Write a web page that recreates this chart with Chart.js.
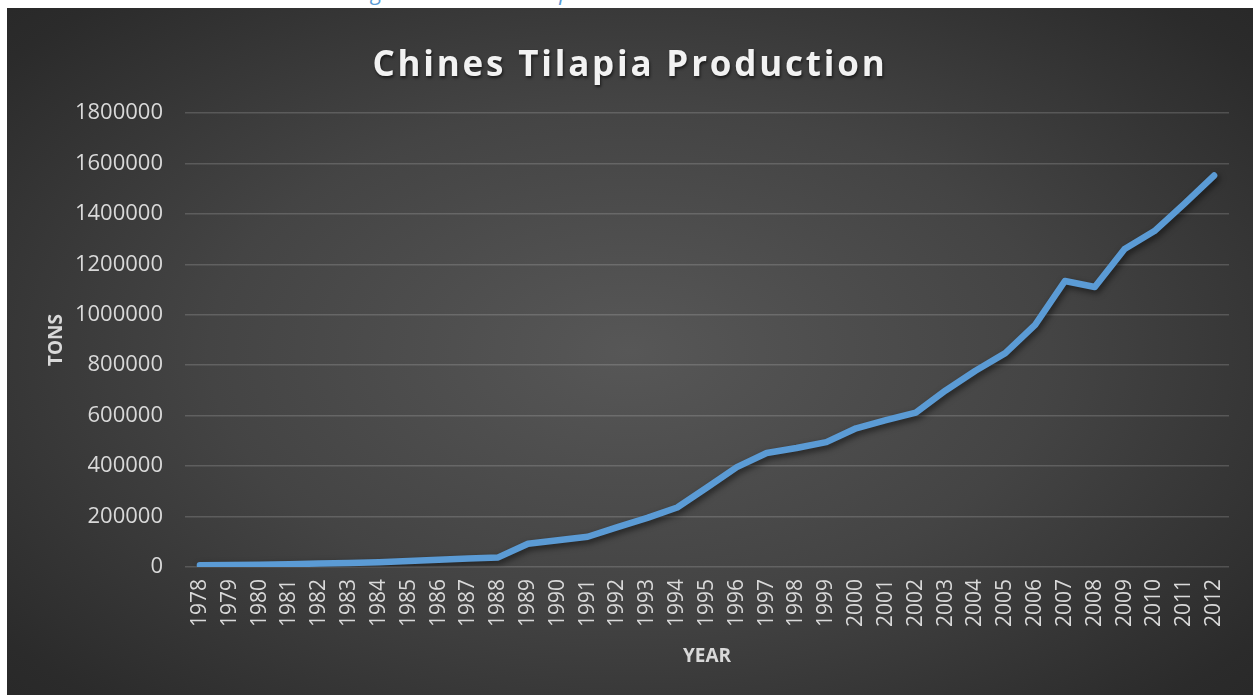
<!DOCTYPE html>
<html>
<head>
<meta charset="utf-8">
<script src="https://cdn.jsdelivr.net/npm/chart.js@4"></script>
<style>
  html, body { margin: 0; padding: 0; background: #fff; overflow: hidden; }
  body { width: 1253px; height: 695px; position: relative; }
  #caption {
    position: absolute; left: 355px; top: -24px; width: 520px; height: 32px;
    font: italic 22px "Open Sans", sans-serif; color: #5b9bd5; white-space: nowrap;
  }
  #panel {
    position: absolute; left: 7px; top: 8px; width: 1246px; height: 687px;
    background: radial-gradient(ellipse 75% 80% at 50% 50%, #575757 0%, #444 45%, #2b2b2b 85%, #262626 100%);
  }
  #title {
    position: absolute; left: 0; width: 1246px; top: 31px; text-align: center;
    font: bold 35px "Open Sans", sans-serif; letter-spacing: 2.8px; color: #f2f2f2;
    text-shadow: 1px 2px 3px rgba(0,0,0,0.6);
  }
  #wrap { position: absolute; left: 0; top: 0; width: 1246px; height: 687px; }
</style>
</head>
<body>
<div id="caption">Figure 3: Chinese Tilapia Production 1978-2012</div>
<div id="panel">
  <div id="wrap"><canvas id="chart"></canvas></div>
  <div id="title">Chines Tilapia Production</div>
</div>
<script>
// years on the x axis
const years = [
  '1978', '1979', '1980', '1981', '1982', '1983', '1984', '1985', '1986', '1987',
  '1988', '1989', '1990', '1991', '1992', '1993', '1994', '1995', '1996', '1997',
  '1998', '1999', '2000', '2001', '2002', '2003', '2004', '2005', '2006', '2007',
  '2008', '2009', '2010', '2011', '2012'
];

// production in tons
const tons = [
  7000, 8000, 9000, 11000, 14000, 16000, 19000, 24000, 29000, 34000,
  38000, 92000, 106000, 120000, 158000, 195000, 236000, 315000, 396000, 452000,
  472000, 495000, 550000, 582000, 612000, 700000, 778000, 848000, 960000, 1134000,
  1110000, 1261000, 1332000, 1440000, 1552000
];

const textColor = '#d9d9d9';
const gridColor = 'rgba(255, 255, 255, 0.16)';

// soft drop shadow under the line, like the original
const lineShadow = {
  id: 'lineShadow',
  beforeDatasetDraw(chart) {
    const ctx = chart.ctx;
    ctx.save();
    ctx.shadowColor = 'rgba(0, 0, 0, 0.55)';
    ctx.shadowBlur = 6;
    ctx.shadowOffsetX = 2;
    ctx.shadowOffsetY = 3;
  },
  afterDatasetDraw(chart) {
    chart.ctx.restore();
  }
};

new Chart(document.getElementById('chart'), {
  type: 'line',
  data: {
    labels: years,
    datasets: [{
      label: 'Tons',
      data: tons,
      borderColor: '#5b9bd5',
      borderWidth: 6.5,
      borderCapStyle: 'round',
      borderJoinStyle: 'round',
      pointRadius: 0,
      tension: 0,
      fill: false
    }]
  },
  options: {
    responsive: true,
    maintainAspectRatio: false,
    animation: false,
    layout: { padding: { top: 105, right: 24, bottom: 0, left: 0 } },
    scales: {
      x: {
        offset: true,
        grid: { display: false, drawTicks: false },
        border: { display: false },
        ticks: {
          color: textColor,
          font: { family: 'Open Sans', size: 21 },
          minRotation: 90,
          maxRotation: 90,
          autoSkip: false,
          padding: 12
        },
        title: {
          display: true,
          text: 'YEAR',
          color: textColor,
          font: { family: 'Open Sans', size: 19, weight: 'bold' },
          padding: { top: 0, bottom: 27 }
        },
        afterFit(scale) { scale.height = 128; }
      },
      y: {
        min: 0,
        max: 1800000,
        grid: { color: gridColor, lineWidth: 1.5, drawTicks: false },
        border: { display: false },
        ticks: {
          stepSize: 200000,
          color: textColor,
          font: { family: 'Open Sans', size: 22 },
          padding: 22,
          callback: function(value) {
            return String(value);
          }
        },
        title: {
          display: true,
          text: 'TONS',
          color: textColor,
          font: { family: 'Open Sans', size: 19, weight: 'bold' },
          padding: { top: 38, bottom: 0 }
        },
        afterFit(scale) { scale.width = 178; }
      }
    },
    plugins: {
      legend: { display: false },
      title: { display: false },
      tooltip: { enabled: false }
    }
  },
  plugins: [lineShadow]
});
</script>
</body>
</html>
